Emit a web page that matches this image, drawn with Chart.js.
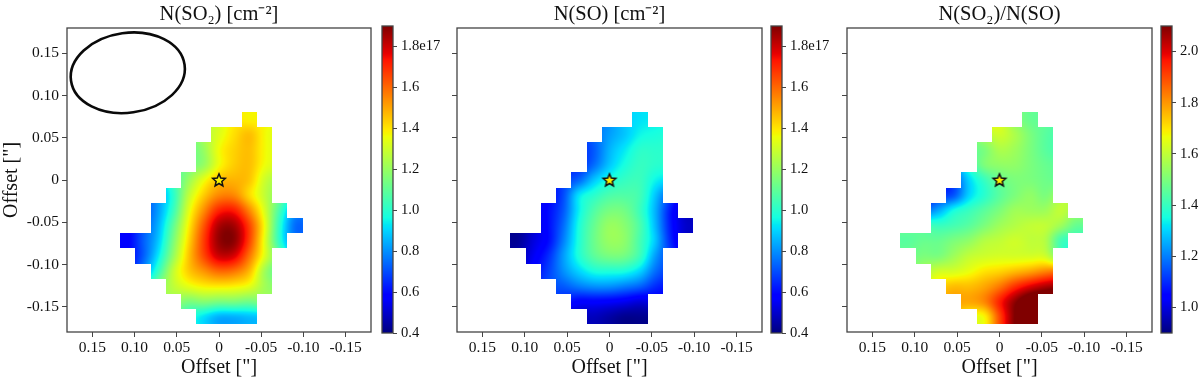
<!DOCTYPE html>
<html><head><meta charset="utf-8">
<style>
html,body{margin:0;padding:0;background:#fff;width:1200px;height:380px;overflow:hidden}
canvas{position:absolute;top:0}
</style>
<script src="https://cdn.jsdelivr.net/npm/chart.js@4"></script>
</head><body>
<canvas id="m1" style="left:0"></canvas>
<canvas id="c1" style="left:376px"></canvas>
<canvas id="m2" style="left:400px"></canvas>
<canvas id="c2" style="left:766px"></canvas>
<canvas id="m3" style="left:790px"></canvas>
<canvas id="c3" style="left:1155px"></canvas>
<script>
const _ = null;
// Cell centres: offset in arcsec (RA axis runs right to left)
const colOffsets = [0.108,0.090,0.072,0.054,0.036,0.018,0,-0.018,-0.036,-0.054,-0.072,-0.090];
const rowOffsets = [0.072,0.054,0.036,0.018,0,-0.018,-0.036,-0.054,-0.072,-0.090,-0.108,-0.126,-0.144,-0.162];
// N(SO2), 1e17 cm^-2
const so2Grid = [
[_,_,_,_,_,_,_,_,1.38,_,_,_],
[_,_,_,_,_,_,1.33,1.41,1.46,1.37,_,_],
[_,_,_,_,_,1.20,1.36,1.43,1.46,1.37,_,_],
[_,_,_,_,_,1.20,1.36,1.44,1.46,1.36,_,_],
[_,_,_,_,1.20,1.35,1.46,1.48,1.45,1.30,_,_],
[_,_,_,1.00,1.27,1.44,1.55,1.55,1.42,1.28,_,_],
[_,_,0.82,1.03,1.33,1.54,1.71,1.72,1.55,1.32,1.05,_],
[_,_,0.85,1.10,1.38,1.63,1.84,1.85,1.66,1.36,1.00,0.75],
[0.58,0.72,0.88,1.15,1.42,1.67,1.87,1.88,1.66,1.34,1.00,_],
[_,0.72,0.93,1.20,1.45,1.65,1.80,1.78,1.58,1.33,_,_],
[_,_,1.02,1.28,1.44,1.53,1.60,1.58,1.47,1.22,_,_],
[_,_,_,1.27,1.34,1.38,1.39,1.38,1.34,1.22,_,_],
[_,_,_,_,1.15,1.17,1.15,1.15,1.13,_,_,_],
[_,_,_,_,_,0.92,0.85,0.85,0.87,_,_,_]];
// N(SO), 1e17 cm^-2
const soGrid = [
[_,_,_,_,_,_,_,_,0.92,_,_,_],
[_,_,_,_,_,_,0.82,0.88,0.95,0.97,_,_],
[_,_,_,_,_,0.72,0.85,0.93,1.00,1.00,_,_],
[_,_,_,_,_,0.75,0.88,0.97,1.02,1.00,_,_],
[_,_,_,_,0.74,0.88,0.97,1.02,1.03,0.95,_,_],
[_,_,_,0.70,0.92,1.00,1.06,1.07,1.04,0.88,_,_],
[_,_,0.60,0.72,0.94,1.07,1.14,1.13,1.03,0.85,0.62,_],
[_,_,0.60,0.75,0.97,1.11,1.20,1.17,1.06,0.86,0.62,0.50],
[0.43,0.52,0.60,0.78,0.98,1.12,1.20,1.18,1.05,0.88,0.64,_],
[_,0.55,0.65,0.82,0.98,1.09,1.14,1.13,1.03,0.82,_,_],
[_,_,0.68,0.80,0.90,0.97,0.98,0.97,0.90,0.75,_,_],
[_,_,_,0.72,0.77,0.80,0.80,0.77,0.73,0.65,_,_],
[_,_,_,_,0.58,0.58,0.57,0.55,0.52,_,_,_],
[_,_,_,_,_,0.48,0.45,0.42,0.42,_,_,_]];
// N(SO2)/N(SO)
const ratioGrid = [
[_,_,_,_,_,_,_,_,1.47,_,_,_],
[_,_,_,_,_,_,1.62,1.57,1.50,1.45,_,_],
[_,_,_,_,_,1.50,1.57,1.55,1.50,1.45,_,_],
[_,_,_,_,_,1.50,1.53,1.53,1.50,1.47,_,_],
[_,_,_,_,1.30,1.40,1.47,1.50,1.50,1.48,_,_],
[_,_,_,1.15,1.30,1.38,1.45,1.50,1.53,1.50,_,_],
[_,_,1.25,1.35,1.40,1.45,1.50,1.55,1.55,1.55,1.60,_],
[_,_,1.40,1.42,1.45,1.50,1.55,1.58,1.60,1.60,1.55,1.47],
[1.45,1.47,1.47,1.50,1.53,1.58,1.60,1.62,1.60,1.58,1.42,_],
[_,1.50,1.50,1.55,1.60,1.62,1.63,1.63,1.63,1.62,_,_],
[_,_,1.62,1.63,1.66,1.70,1.72,1.75,1.78,1.82,_,_],
[_,_,_,1.75,1.75,1.78,1.84,1.93,2.00,2.05,_,_],
[_,_,_,_,1.78,1.82,1.95,2.08,2.18,_,_,_],
[_,_,_,_,_,1.68,1.90,2.10,2.20,_,_,_]];

const axisRange = [-0.18, 0.18];
const offsetTicks = [0.15,0.10,0.05,0,-0.05,-0.10,-0.15];
const columnRange = [0.4, 1.9];
const columnTicks = [0.4,0.6,0.8,1.0,1.2,1.4,1.6,1.8];
const ratioRange = [0.9, 2.1];
const ratioTicks = [1.0,1.2,1.4,1.6,1.8,2.0];
const starPosition = {x:0, y:0};
const beam = {x:0.108, y:0.127, major:0.0679, minor:0.0473, angleDeg:8};
const titles = ['N(SO\u2082) [cm\u207B\u00B2]','N(SO) [cm\u207B\u00B2]','N(SO\u2082)/N(SO)'];
const xTitle = 'Offset ["]';

const FONT = "'Liberation Serif','Times New Roman',serif";
const INK = '#444';
const TEXT = '#111';

function jet(t){
  t=Math.max(0,Math.min(1,t));
  const seg=(p)=>{for(let i=1;i<p.length;i++){if(t<=p[i][0]){const a=p[i-1],b=p[i];return a[1]+(b[1]-a[1])*(t-a[0])/(b[0]-a[0]);}}return p[p.length-1][1];};
  return [
    seg([[0,0],[0.35,0],[0.66,1],[0.89,1],[1,0.5]])*255,
    seg([[0,0],[0.125,0],[0.375,1],[0.64,1],[0.91,0],[1,0]])*255,
    seg([[0,0.5],[0.11,1],[0.34,1],[0.65,0],[1,0]])*255];
}
// Edge support for the display resampling (like imshow's bicubic kernel)
function padded(grid){
  let g=grid.map(r=>r.slice());
  const H=g.length,W=g[0].length;
  const at=(a,j,i)=>(j>=0&&j<H&&i>=0&&i<W)?a[j][i]:null;
  for(let pass=0;pass<3;pass++){
    const n=g.map(r=>r.slice());
    for(let j=0;j<H;j++)for(let i=0;i<W;i++){
      if(g[j][i]!==null)continue;
      let s=0,c=0;
      [[0,1],[0,-1],[1,0],[-1,0]].forEach(([dj,di])=>{
        const a=at(g,j+dj,i+di);
        if(a===null)return;
        const b=at(g,j+2*dj,i+2*di);
        s+=b===null?a:(1.6*a-0.6*b);c++;
      });
      if(c)n[j][i]=s/c;
    }
    g=n;
  }
  return g.map(r=>r.map(v=>v===null?0:v));
}
function kernel(x){x=Math.abs(x);const a=-0.5;
  if(x<1)return (a+2)*x*x*x-(a+3)*x*x+1;
  if(x<2)return a*x*x*x-5*a*x*x+8*a*x-4*a;
  return 0;}

const heatmapPlugin={id:'heatmap',
  beforeDatasetsDraw(chart,args,opts){
    const {ctx,chartArea:A,scales:{x:sx,y:sy}}=chart;
    const grid=opts.grid,[lo,hi]=opts.range,fill=padded(grid);
    const H=grid.length,W=grid[0].length;
    const x0=colOffsets[0],dx=colOffsets[1]-colOffsets[0],y0=rowOffsets[0],dy=rowOffsets[1]-rowOffsets[0];
    const L=Math.floor(A.left),T=Math.floor(A.top),w=Math.ceil(A.width),h=Math.ceil(A.height);
    const img=ctx.createImageData(w,h);
    for(let py=0;py<h;py++){
      const v=(sy.getValueForPixel(T+py+0.5)-y0)/dy;
      const rj=Math.round(v);
      if(rj<0||rj>=H)continue;
      for(let px=0;px<w;px++){
        const u=(sx.getValueForPixel(L+px+0.5)-x0)/dx;
        const ri=Math.round(u);
        if(ri<0||ri>=W||grid[rj][ri]===null)continue;
        const fi=Math.floor(u),fj=Math.floor(v);
        let s=0,ws=0;
        for(let j=fj-1;j<=fj+2;j++)for(let i=fi-1;i<=fi+2;i++){
          const jj=Math.max(0,Math.min(H-1,j)),ii=Math.max(0,Math.min(W-1,i));
          const k=kernel(u-i)*kernel(v-j);s+=k*fill[jj][ii];ws+=k;
        }
        const c=jet((s/ws-lo)/(hi-lo));
        const o=(py*w+px)*4;
        img.data[o]=c[0];img.data[o+1]=c[1];img.data[o+2]=c[2];img.data[o+3]=255;
      }
    }
    const off=document.createElement('canvas');off.width=w;off.height=h;
    off.getContext('2d').putImageData(img,0,0);
    ctx.drawImage(off,L,T);
  }};
const framePlugin={id:'frame',
  afterDraw(chart){
    const {ctx,chartArea:A}=chart;
    ctx.save();ctx.strokeStyle=INK;ctx.lineWidth=1.3;
    ctx.strokeRect(A.left,A.top,A.width,A.height);ctx.restore();
  }};
const beamPlugin={id:'beam',
  afterDatasetsDraw(chart,args,opts){
    if(!opts.show)return;
    const {ctx,scales:{x:sx,y:sy}}=chart;
    const cx=sx.getPixelForValue(beam.x),cy=sy.getPixelForValue(beam.y);
    const a=Math.abs(sx.getPixelForValue(beam.x+beam.major)-cx);
    const b=Math.abs(sy.getPixelForValue(beam.y+beam.minor)-cy);
    ctx.save();ctx.strokeStyle='#0a0a0a';ctx.lineWidth=2.6;
    ctx.beginPath();ctx.ellipse(cx,cy,a,b,-beam.angleDeg*Math.PI/180,0,2*Math.PI);ctx.stroke();ctx.restore();
  }};
const colorbarPlugin={id:'colorbar',
  beforeDatasetsDraw(chart,args,opts){
    const {ctx,chartArea:A,scales:{y}}=chart;const [lo,hi]=opts.range;
    for(let p=Math.floor(A.top);p<Math.ceil(A.bottom);p++){
      const c=jet((y.getValueForPixel(p+0.5)-lo)/(hi-lo));
      ctx.fillStyle=`rgb(${c[0]|0},${c[1]|0},${c[2]|0})`;
      ctx.fillRect(A.left,p,A.width,1);
    }
  }};
function starImage(){
  const s=20,c=document.createElement('canvas');c.width=s;c.height=s;
  const g=c.getContext('2d');g.beginPath();
  for(let i=0;i<10;i++){
    const r=i%2?3.0:6.6,t=-Math.PI/2+i*Math.PI/5;
    g[i?'lineTo':'moveTo'](s/2+r*Math.cos(t),s/2+0.5+r*Math.sin(t));
  }
  g.closePath();g.fillStyle='#f7f000';g.fill();g.lineWidth=1.5;g.strokeStyle='#111';g.stroke();
  return c;
}
function fixed(list){return (scale)=>{scale.ticks=list.map(v=>({value:v}));};}
const offsetLabel=v=>v===0?'0':v.toFixed(2);
function noPad(s){s.paddingLeft=0;s.paddingRight=0;s.paddingTop=0;s.paddingBottom=0;}

function mainChart(id,opts){
  return new Chart(document.getElementById(id),{
    type:'scatter',
    data:{datasets:[{
      label:'star',data:[starPosition],pointStyle:starImage(),pointRadius:10,pointHoverRadius:10
    }]},
    options:{
      responsive:false,animation:false,devicePixelRatio:1,
      layout:{autoPadding:false,padding:{left:0,right:opts.right,top:0,bottom:0}},
      plugins:{
        legend:{display:false},tooltip:{enabled:false},
        title:{display:true,text:opts.title,fullSize:false,color:TEXT,font:{family:FONT,size:20.5,weight:'normal',lineHeight:1.2},padding:{top:2,bottom:1.4}},
        heatmap:{grid:opts.grid,range:opts.range},
        beam:{show:opts.beam}
      },
      scales:{
        x:{type:'linear',reverse:true,min:axisRange[0],max:axisRange[1],
          afterBuildTicks:fixed(offsetTicks),
          afterFit(s){s.height=48;noPad(s);},
          ticks:{autoSkip:false,maxRotation:0,minRotation:0,padding:2,color:TEXT,font:{family:FONT,size:15.5},callback:offsetLabel},
          grid:{drawOnChartArea:false,drawTicks:true,tickLength:5,color:INK},
          border:{display:false},
          title:{display:true,text:xTitle,color:TEXT,font:{family:FONT,size:20,lineHeight:1.2},padding:{top:0,bottom:0}}},
        y:{type:'linear',min:axisRange[0],max:axisRange[1],
          afterBuildTicks:fixed(offsetTicks),
          afterFit(s){s.width=opts.left;noPad(s);},
          ticks:{autoSkip:false,padding:3,color:TEXT,font:{family:FONT,size:15.5},
            callback:opts.yLabels?offsetLabel:()=>''},
          grid:{drawOnChartArea:false,drawTicks:true,tickLength:5,color:INK},
          border:{display:false},
          title:{display:opts.yLabels,text:xTitle,color:TEXT,font:{family:FONT,size:20,lineHeight:1.2},padding:{top:0,bottom:0}}}
      }
    },
    plugins:[heatmapPlugin,beamPlugin,framePlugin]
  });
}
function barChart(id,opts){
  return new Chart(document.getElementById(id),{
    type:'scatter',
    data:{datasets:[{data:[],pointRadius:0}]},
    options:{
      responsive:false,animation:false,devicePixelRatio:1,
      layout:{autoPadding:false,padding:{left:opts.left,right:0,top:26,bottom:47}},
      plugins:{legend:{display:false},tooltip:{enabled:false},colorbar:{range:opts.range}},
      scales:{
        x:{display:false,min:0,max:1},
        y:{type:'linear',position:'right',min:opts.range[0],max:opts.range[1],
          afterBuildTicks:fixed(opts.ticks),
          afterFit(s){s.width=opts.width-opts.left-opts.bar;noPad(s);},
          ticks:{autoSkip:false,padding:4,color:TEXT,font:{family:FONT,size:14.6},callback:opts.label},
          grid:{drawOnChartArea:false,drawTicks:true,tickLength:4,color:INK},
          border:{display:false}}
      }
    },
    plugins:[colorbarPlugin,framePlugin]
  });
}
function sizeCanvas(id,w){const c=document.getElementById(id);c.width=w;c.height=380;c.style.width=w+'px';c.style.height='380px';}
[['m1',376],['c1',70],['m2',366],['c2',70],['m3',366],['c3',45]].forEach(a=>sizeCanvas(a[0],a[1]));

const colLabel=v=>v===1.8?'1.8e17':v.toFixed(1);
const ratLabel=v=>v.toFixed(1);
mainChart('m1',{grid:so2Grid,range:columnRange,title:titles[0],left:67,right:5,yLabels:true,beam:true});
mainChart('m2',{grid:soGrid,range:columnRange,title:titles[1],left:57,right:4,yLabels:false,beam:false});
mainChart('m3',{grid:ratioGrid,range:ratioRange,title:titles[2],left:57,right:4,yLabels:false,beam:false});
barChart('c1',{range:columnRange,ticks:columnTicks,label:colLabel,left:6,bar:11,width:70});
barChart('c2',{range:columnRange,ticks:columnTicks,label:colLabel,left:5,bar:11,width:70});
barChart('c3',{range:ratioRange,ticks:ratioTicks,label:ratLabel,left:6,bar:11,width:45});
</script>
</body></html>
